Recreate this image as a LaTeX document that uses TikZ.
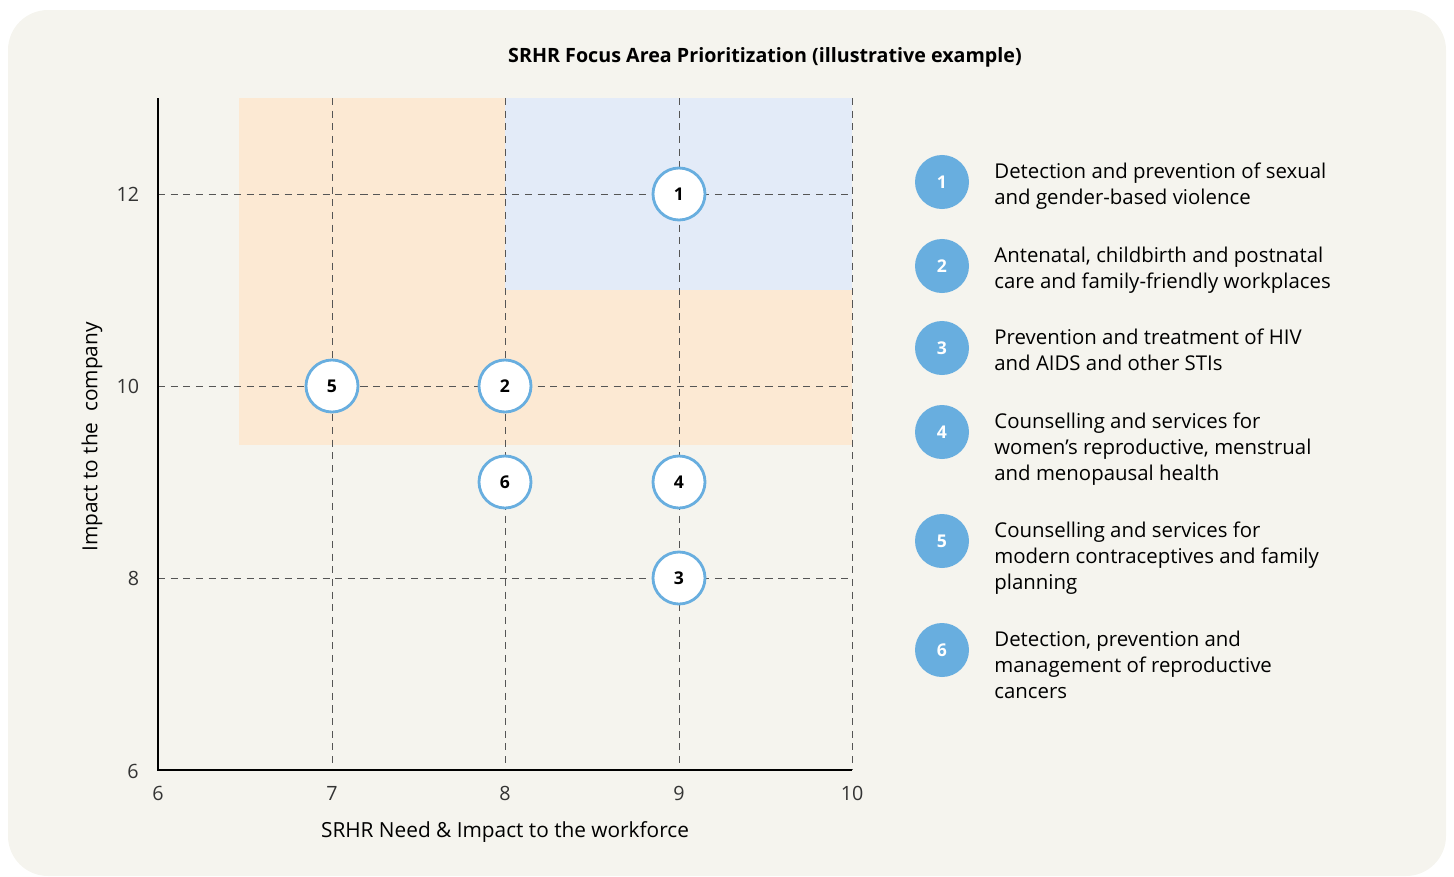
\documentclass[tikz,border=0pt]{standalone}
\usepackage{fontspec}
\setmainfont{Open Sans}
\definecolor{fondo}{HTML}{F5F4EE}
\definecolor{naranja}{HTML}{FCE9D3}
\definecolor{azul}{HTML}{E3EBF8}
\definecolor{azulc}{HTML}{68AEDF}
\definecolor{rejilla}{HTML}{555555}
\tikzset{
  punto/.style={circle, draw=azulc, line width=2pt, fill=white, minimum size=1.3cm, inner sep=0pt, font=\fontsize{12.5}{14}\selectfont\bfseries},
  leyenda/.style={circle, fill=azulc, text=white, minimum size=1.35cm, inner sep=0pt, font=\fontsize{12.5}{14}\selectfont\bfseries},
  texto/.style={anchor=north west, xshift=0.62cm, yshift=0.475cm, inner sep=0pt, align=left, font=\fontsize{14.5}{18.4}\selectfont},
  marca/.style={text=black!80, font=\fontsize{14}{16}\selectfont},
  eje/.style={font=\fontsize{14.8}{16}\selectfont},
  malla/.style={rejilla, line width=0.6pt, dash pattern=on 5pt off 4pt}
}
\begin{document}
\begin{tikzpicture}[x=0.025cm,y=-0.025cm]
    \useasboundingbox (0,0) rectangle (1454,876);
    % Fondo
    \fill[fondo, rounded corners=1cm] (8,10) rectangle (1446,876);

    % Zonas
    \fill[naranja] (239,98) rectangle (852,445);
    \fill[azul] (505,98) rectangle (852,290);

    % Rejilla
    \foreach \x in {332,505,679,852}
        \draw[malla] (\x,98) -- (\x,770);
    \foreach \y in {194,386,578}
        \draw[malla] (158,\y) -- (852,\y);

    % Ejes
    \draw[line width=1.2pt] (158,98) -- (158,770) -- (852,770);

    % Etiquetas
    \foreach \y/\v in {194/12,386/10,578/8}
        \node[marca, anchor=east] at (144,\y) {\v};
    \node[marca] at (133,771) {6};
    \foreach \x/\v in {158/6,332/7,505/8,679/9,852/10}
        \node[marca] at (\x,793) {\v};
    \node[eje] (ejex) at (505,832) {SRHR Need \& Impact to the workforce};
    \node[eje, rotate=90] (ejey) at (92,437) {Impact to the\ \ company};
    \node[font=\fontsize{14}{16}\selectfont\bfseries] (titulo) at (765,57) {SRHR Focus Area Prioritization (illustrative example)};

    % Puntos
    \node[punto] (p1) at (679,194) {1};
    \node[punto] (p2) at (505,386) {2};
    \node[punto] (p3) at (679,578) {3};
    \node[punto] (p4) at (679,482) {4};
    \node[punto] (p5) at (332,386) {5};
    \node[punto] (p6) at (505,482) {6};

    % Leyenda
    \node[leyenda] (c1) at (942,182) {1};
    \node[leyenda] (c2) at (942,266) {2};
    \node[leyenda] (c3) at (942,348) {3};
    \node[leyenda] (c4) at (942,432) {4};
    \node[leyenda] (c5) at (942,541) {5};
    \node[leyenda] (c6) at (942,650) {6};
    \node[texto] (t1) at (c1.east) {Detection and prevention of sexual\\and gender-based violence};
    \node[texto] (t2) at (c2.east) {Antenatal, childbirth and postnatal\\care and family-friendly workplaces};
    \node[texto] (t3) at (c3.east) {Prevention and treatment of HIV\\and AIDS and other STIs};
    \node[texto] (t4) at (c4.east) {Counselling and services for\\women's reproductive, menstrual\\and menopausal health};
    \node[texto] (t5) at (c5.east) {Counselling and services for\\modern contraceptives and family\\planning};
    \node[texto] (t6) at (c6.east) {Detection, prevention and\\management of reproductive\\cancers};
\end{tikzpicture}
\end{document}
